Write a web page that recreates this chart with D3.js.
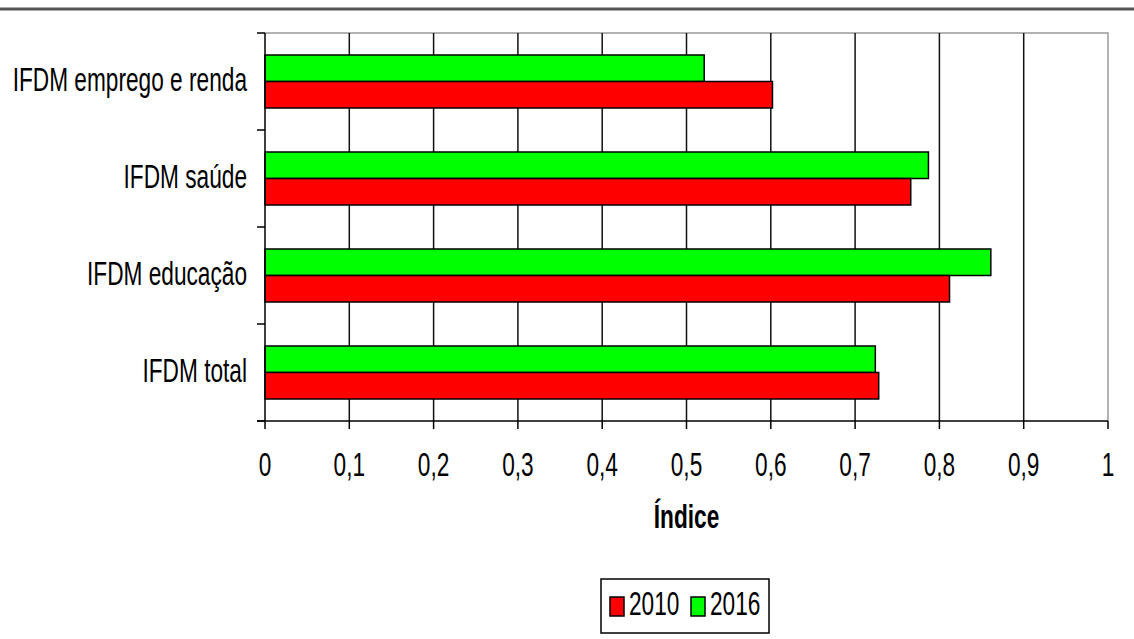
<!DOCTYPE html>
<html>
<head>
<meta charset="utf-8">
<script src="https://cdn.jsdelivr.net/npm/d3@7"></script>
<style>
  body { margin: 0; background: #fff; }
  text { font-family: "Liberation Sans Narrow", "Arial Narrow", "Liberation Sans", Arial, sans-serif; }
</style>
</head>
<body>
<script>
// categories from top to bottom
const categories = ["IFDM emprego e renda", "IFDM saúde", "IFDM educação", "IFDM total"];
const years = ["2016", "2010"];
const values2010 = [0.602, 0.766, 0.812, 0.728];
const values2016 = [0.521, 0.787, 0.861, 0.724];
const xTicks = [0, 0.1, 0.2, 0.3, 0.4, 0.5, 0.6, 0.7, 0.8, 0.9, 1];
const colors = { "2010": "#ff0000", "2016": "#00ff00" };

const width = 1134, height = 639;
const margin = { top: 33, right: 26, bottom: 218, left: 265 };
const fs = 27, sx = 0.84, sy = 1.2; // narrow font, squeezed and stretched

const rows = categories.map((c, i) => ({ cat: c, "2010": values2010[i], "2016": values2016[i] }));

const svg = d3.select("body").append("svg")
    .attr("width", width)
    .attr("height", height);

// top rule across the page
svg.append("line")
    .attr("x1", 0).attr("x2", width)
    .attr("y1", 9).attr("y2", 9)
    .attr("stroke", "#555").attr("stroke-width", 3);

const x = d3.scaleLinear()
    .domain([0, 1])
    .range([margin.left, width - margin.right]);

const y = d3.scaleBand()
    .domain(categories)
    .range([margin.top, height - margin.bottom]);

const ySub = d3.scaleBand()
    .domain(years)
    .range([0, y.bandwidth()])
    .paddingOuter(0.83);

const y0 = margin.top, y1 = height - margin.bottom;

// plot frame (gray top/right)
svg.append("path")
    .attr("d", `M${x(0)},${y0}H${x(1)}V${y1}`)
    .attr("fill", "none")
    .attr("stroke", "#999").attr("stroke-width", 1.5);

// vertical gridlines
svg.append("g")
  .selectAll("line")
  .data(xTicks.slice(1, -1))
  .join("line")
    .attr("x1", d => x(d)).attr("x2", d => x(d))
    .attr("y1", y0).attr("y2", y1)
    .attr("stroke", "#111").attr("stroke-width", 1.5);

// bars
const group = svg.append("g")
  .selectAll("g")
  .data(rows)
  .join("g")
    .attr("transform", d => `translate(0,${y(d.cat)})`);

group.selectAll("rect")
  .data(d => years.map(k => ({ key: k, value: d[k] })))
  .join("rect")
    .attr("x", x(0))
    .attr("y", d => ySub(d.key))
    .attr("width", d => x(d.value) - x(0))
    .attr("height", ySub.bandwidth())
    .attr("fill", d => colors[d.key])
    .attr("stroke", "#000")
    .attr("stroke-width", 1.5);

// x axis
const xAxis = svg.append("g");
xAxis.append("line")
    .attr("x1", x(0) - 8).attr("x2", x(1))
    .attr("y1", y1).attr("y2", y1)
    .attr("stroke", "#000").attr("stroke-width", 1.5);
xAxis.selectAll(".tick")
  .data(xTicks)
  .join("line")
    .attr("x1", d => x(d)).attr("x2", d => x(d))
    .attr("y1", y1).attr("y2", y1 + 8)
    .attr("stroke", "#000").attr("stroke-width", 1.5);

const fmt = d => String(d).replace(".", ",");
xAxis.selectAll("text")
  .data(xTicks)
  .join("text")
    .attr("transform", d => `translate(${x(d)},${y1 + 55}) scale(${sx},${sy})`)
    .attr("text-anchor", "middle")
    .attr("font-size", fs)
    .attr("fill", "#000")
    .text(fmt);

// y axis
const yAxis = svg.append("g");
yAxis.append("line")
    .attr("x1", x(0)).attr("x2", x(0))
    .attr("y1", y0).attr("y2", y1)
    .attr("stroke", "#000").attr("stroke-width", 1.5);
yAxis.selectAll(".tick")
  .data(categories.map(c => y(c)).concat([y1]))
  .join("line")
    .attr("x1", x(0) - 8).attr("x2", x(0))
    .attr("y1", d => d).attr("y2", d => d)
    .attr("stroke", "#000").attr("stroke-width", 1.5);
yAxis.selectAll("text")
  .data(categories)
  .join("text")
    .attr("transform", c => `translate(${x(0) - 18},${y(c) + y.bandwidth() / 2 + 9}) scale(${sx},${sy})`)
    .attr("text-anchor", "end")
    .attr("font-size", fs)
    .attr("fill", "#000")
    .text(c => c);

// axis title
svg.append("text")
    .attr("transform", `translate(${(x(0) + x(1)) / 2},528) scale(${sx},${sy})`)
    .attr("text-anchor", "middle")
    .attr("font-size", fs)
    .attr("font-weight", "bold")
    .attr("fill", "#000")
    .text("Índice");

// legend
const legend = svg.append("g").attr("transform", "translate(601,579)");
legend.append("rect")
    .attr("width", 168).attr("height", 54)
    .attr("fill", "#fff")
    .attr("stroke", "#000").attr("stroke-width", 1.5);
const lx = d3.scalePoint().domain(["2010", "2016"]).range([9, 90]);
const item = legend.selectAll("g")
  .data(["2010", "2016"])
  .join("g")
    .attr("transform", d => `translate(${lx(d)},0)`);
item.append("rect")
    .attr("y", 18).attr("width", 14).attr("height", 19)
    .attr("fill", d => colors[d])
    .attr("stroke", "#000").attr("stroke-width", 1.5);
item.append("text")
    .attr("transform", `translate(19,36) scale(${sx},${sy})`)
    .attr("font-size", fs)
    .attr("fill", "#000")
    .text(d => d);
</script>
</body>
</html>
